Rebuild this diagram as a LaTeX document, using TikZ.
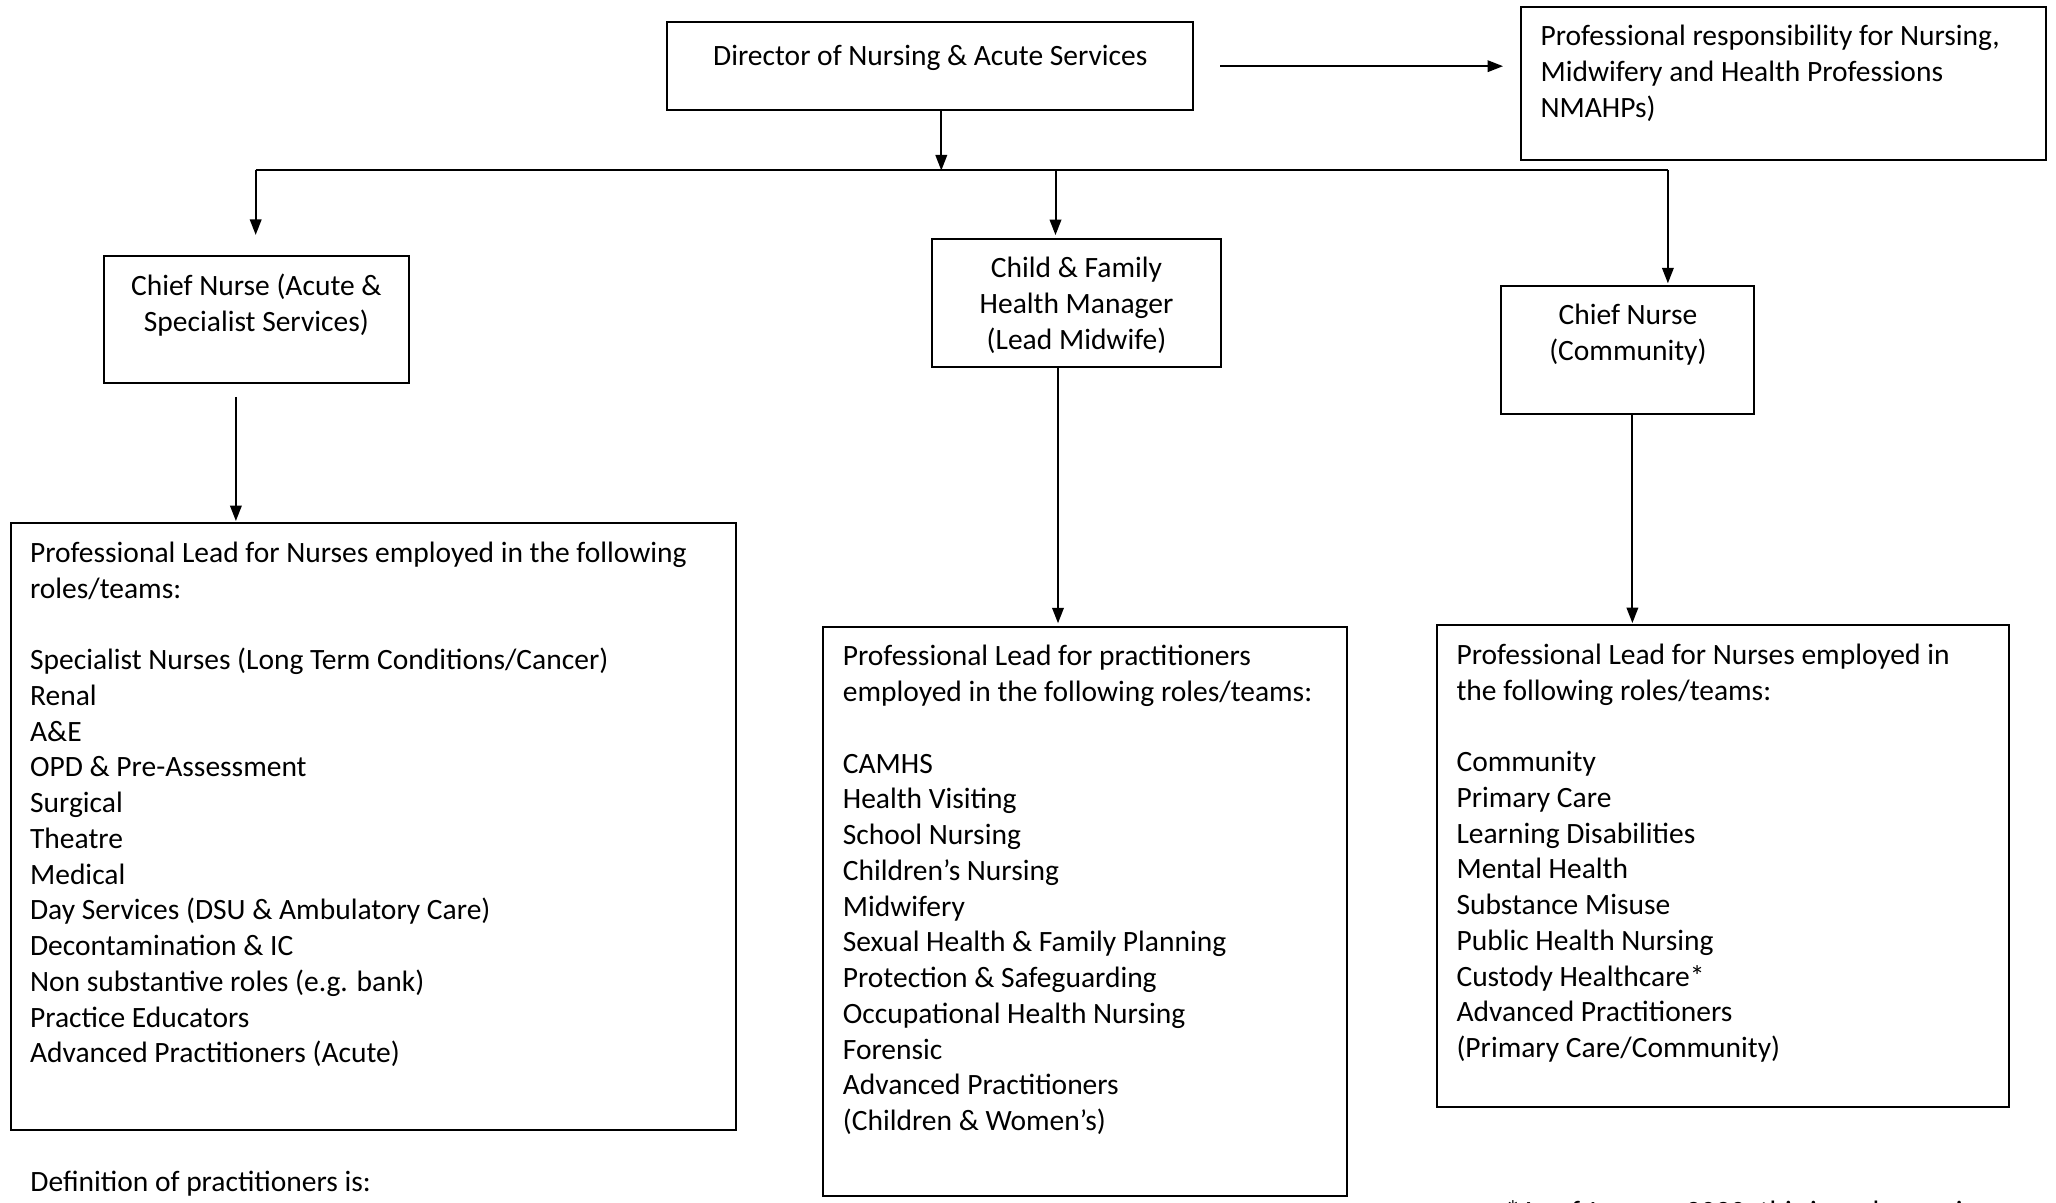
\documentclass[tikz,border=0pt]{standalone}
\usepackage{fontspec}
\setmainfont{Carlito}
\usetikzlibrary{arrows.meta}

\tikzset{
  box/.style={draw, line width=0.8pt, inner sep=0pt},
  txt/.style={inner sep=0pt, align=left, anchor=north west, font=\fontsize{11.8}{14.3}\selectfont,
    execute at begin node=\strut},
  ctxt/.style={txt, align=center, anchor=north},
  arr/.style={line width=0.8pt, -{Triangle[length=6.2pt,width=4.6pt]}}
}

\begin{document}
\begin{tikzpicture}[x=0.4pt,y=-0.4pt]
\useasboundingbox (0,0) rectangle (2056,1203);

% Director
\node[box, minimum width=210.3pt, minimum height=35.1pt] (dir) at (930.3,66.2) {};
\node[ctxt] (dirtxt) at ([yshift=-7.6pt]dir.north) {Director of Nursing \& Acute Services};

% NMAHP responsibility
\node[box, minimum width=209.8pt, minimum height=61.4pt] (resp) at (1783.3,83.3) {};
\node[txt] (resptxt) at ([shift={(8pt,-7.6pt)}]resp.north west)
  {Professional responsibility for Nursing,\\Midwifery and Health Professions\\NMAHPs)};

% Chief nurses / manager
\node[box, minimum width=122.2pt, minimum height=50.9pt] (acute) at (256.4,319.3) {};
\node[ctxt] (acutetxt) at ([yshift=-7.6pt]acute.north) {Chief Nurse (Acute \&\\Specialist Services)};

\node[box, minimum width=115.4pt, minimum height=51.4pt] (child) at (1076.5,302.9) {};
\node[ctxt] (childtxt) at ([yshift=-7.6pt]child.north) {Child \& Family\\Health Manager\\(Lead Midwife)};

\node[box, minimum width=101.2pt, minimum height=51.4pt] (comm) at (1627.9,350.1) {};
\node[ctxt] (commtxt) at ([yshift=-7.6pt]comm.north) {Chief Nurse\\(Community)};

% Professional leads
\node[box, minimum width=290pt, minimum height=242.8pt] (leadA) at (373.1,826.8) {};
\node[txt] (leadAtxt) at ([shift={(8pt,-7.6pt)}]leadA.north west)
  {Professional Lead for Nurses employed in the following\\roles/teams:\\[14.3pt]
   Specialist Nurses (Long Term Conditions/Cancer)\\Renal\\A\&E\\OPD \& Pre-Assessment\\
   Surgical\\Theatre\\Medical\\Day Services (DSU \& Ambulatory Care)\\Decontamination \& IC\\
   Non substantive roles (e.g. bank)\\Practice Educators\\Advanced Practitioners (Acute)};

\node[box, minimum width=209.3pt, minimum height=227.6pt] (leadC) at (1085,911.3) {};
\node[txt] (leadCtxt) at ([shift={(8pt,-7.6pt)}]leadC.north west)
  {Professional Lead for practitioners\\employed in the following roles/teams:\\[14.3pt]
   CAMHS\\Health Visiting\\School Nursing\\Children’s Nursing\\Midwifery\\
   Sexual Health \& Family Planning\\Protection \& Safeguarding\\Occupational Health Nursing\\
   Forensic\\Advanced Practitioners\\(Children \& Women’s)};

\node[box, minimum width=228.7pt, minimum height=192.5pt] (leadM) at (1722.9,866) {};
\node[txt] (leadMtxt) at ([shift={(8pt,-7.6pt)}]leadM.north west)
  {Professional Lead for Nurses employed in\\the following roles/teams:\\[14.3pt]
   Community\\Primary Care\\Learning Disabilities\\Mental Health\\Substance Misuse\\
   Public Health Nursing\\Custody Healthcare*\\Advanced Practitioners\\(Primary Care/Community)};

% Notes
\node[txt, anchor=base west] (defn) at (30,1192) {Definition of practitioners is:};
\begin{scope}
\clip (0,0) rectangle (2056,1203);
\node[txt, anchor=base west] (foot) at (1505,1222) {*As of January 2020, this is no longer in};
\end{scope}

% Connectors
\coordinate (busL) at (255.7,170.5);
\coordinate (busR) at (1667.9,170.5);
\draw[line width=0.8pt] (busL) -- (busR);
\draw[arr] ([xshift=4.4pt]dir.south) -- ([xshift=4.4pt]dir.south |- busL);
\draw[arr, shorten <=10.4pt, shorten >=6.8pt] (dir.east) -- (dir.east -| resp.west);
\draw[arr, shorten >=7.9pt] (busL) -- (busL |- acute.north);
\draw[arr, shorten >=1pt] ([xshift=-8.4pt]child.north |- busL) -- ([xshift=-8.4pt]child.north);
\draw[arr, shorten >=0.6pt] (busR) -- (busR |- comm.north);
\draw[arr, shorten <=5.2pt, shorten >=0.5pt] ([xshift=-8.2pt]acute.south) -- ([xshift=-8.2pt]acute.south |- leadA.north);
\draw[arr, shorten >=1pt] ([xshift=-7.4pt]child.south) -- ([xshift=-7.4pt]child.south |- leadC.north);
\draw[arr, shorten >=0.5pt] ([xshift=1.8pt]comm.south) -- ([xshift=1.8pt]comm.south |- leadM.north);

\end{tikzpicture}
\end{document}
